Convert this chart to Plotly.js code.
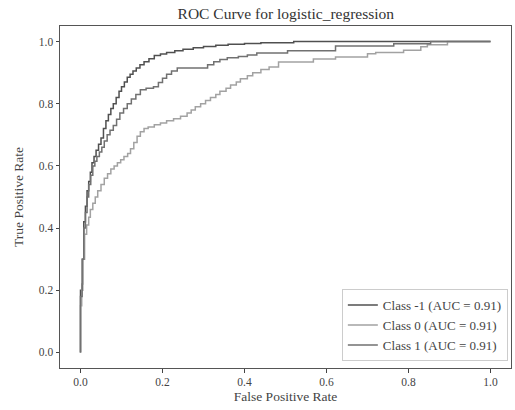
<!DOCTYPE html>
<html>
<head>
<meta charset="utf-8">
<script src="https://cdn.plot.ly/plotly-3.0.1.min.js"></script>
<style>html,body{margin:0;padding:0;background:#fff;}#chart{width:515px;height:410px;}</style>
</head>
<body>
<div id="chart"></div>
<script>
// Class -1 ROC (step corners)
const fprNeg1 = [0,0,0.005,0.008,0.012,0.016,0.02,0.024,0.028,0.033,0.038,0.044,0.05,0.056,0.062,0.068,0.074,0.08,0.087,0.094,0.1,0.107,0.114,0.121,0.128,0.136,0.145,0.155,0.167,0.18,0.195,0.21,0.23,0.25,0.275,0.3,0.33,0.36,0.4,0.44,0.52,1.0];
const tprNeg1 = [0,0.2,0.3,0.42,0.47,0.52,0.55,0.58,0.61,0.63,0.65,0.67,0.69,0.72,0.745,0.765,0.785,0.8,0.82,0.84,0.855,0.87,0.885,0.895,0.905,0.915,0.925,0.935,0.945,0.955,0.96,0.965,0.97,0.975,0.98,0.984,0.988,0.991,0.994,0.996,1.0,1.0];
// Class 0 ROC
const fpr0 = [0,0,0.003,0.006,0.01,0.015,0.02,0.024,0.03,0.036,0.042,0.05,0.058,0.066,0.074,0.082,0.09,0.098,0.106,0.115,0.122,0.13,0.138,0.146,0.155,0.165,0.18,0.195,0.21,0.227,0.244,0.26,0.27,0.28,0.293,0.305,0.317,0.33,0.34,0.355,0.366,0.38,0.39,0.407,0.42,0.44,0.46,0.483,0.568,0.622,0.70,0.72,0.788,0.83,0.846,0.895,1.0];
const tpr0 = [0,0.15,0.22,0.3,0.38,0.41,0.435,0.46,0.48,0.5,0.52,0.54,0.56,0.575,0.59,0.6,0.61,0.62,0.63,0.64,0.655,0.675,0.695,0.71,0.72,0.725,0.732,0.738,0.745,0.752,0.76,0.77,0.78,0.79,0.8,0.81,0.82,0.83,0.84,0.85,0.86,0.87,0.88,0.89,0.9,0.91,0.918,0.934,0.944,0.95,0.961,0.965,0.972,0.983,0.99,1.0,1.0];
// Class 1 ROC
const fpr1 = [0,0,0.004,0.008,0.012,0.016,0.02,0.025,0.03,0.035,0.04,0.046,0.052,0.058,0.065,0.072,0.08,0.088,0.096,0.105,0.114,0.124,0.135,0.146,0.16,0.178,0.19,0.2,0.21,0.222,0.236,0.31,0.325,0.34,0.358,0.385,0.407,0.43,0.505,0.622,0.764,0.854,1.0];
const tpr1 = [0,0.18,0.3,0.4,0.45,0.5,0.54,0.57,0.6,0.615,0.63,0.645,0.66,0.68,0.7,0.715,0.73,0.75,0.77,0.785,0.8,0.815,0.83,0.845,0.85,0.855,0.868,0.882,0.895,0.905,0.915,0.925,0.935,0.942,0.948,0.952,0.957,0.963,0.97,0.986,0.993,1.0,1.0];

const seriesNames = ["Class -1 (AUC = 0.91)", "Class 0 (AUC = 0.91)", "Class 1 (AUC = 0.91)"];
const tickVals = [0,0.2,0.4,0.6,0.8,1.0];
const tickText = ["0.0","0.2","0.4","0.6","0.8","1.0"];

const FONT = "Liberation Serif, Times New Roman, serif";
const colors = ["#505050", "#a2a2a2", "#717171"];
const xs = [fprNeg1, fpr0, fpr1];
const ys = [tprNeg1, tpr0, tpr1];

const traces = seriesNames.map((n, i) => ({
  x: xs[i], y: ys[i], name: n, type: "scatter", mode: "lines",
  line: {color: colors[i], width: 1.5, shape: "hv"}
}));

const axisCommon = {
  range: [-0.05, 1.05], tickvals: tickVals, ticktext: tickText,
  showgrid: false, zeroline: false, showline: true, mirror: true,
  linecolor: "#555", linewidth: 1, ticks: "outside", ticklen: 3.5,
  tickcolor: "#444", tickwidth: 1,
  tickfont: {family: FONT, size: 11.5, color: "#444"}, automargin: false
};

const layout = {
  width: 515, height: 410,
  margin: {l: 60, r: 4, t: 26, b: 42},
  paper_bgcolor: "#fff", plot_bgcolor: "#fff",
  title: {text: "ROC Curve for logistic_regression", font: {family: FONT, size: 15.5, color: "#333"},
          x: 0.555, xanchor: "center", y: 0.968, yanchor: "middle", yref: "container"},
  xaxis: Object.assign({}, axisCommon, {title: {text: "False Positive Rate", font: {family: FONT, size: 13.5, color: "#444"}, standoff: 4}}),
  yaxis: Object.assign({}, axisCommon, {title: {text: "True Positive Rate", font: {family: FONT, size: 13.5, color: "#444"}, standoff: 12}}),
  showlegend: true,
  legend: {x: 0.993, xanchor: "right", y: 0.02, yanchor: "bottom",
           bgcolor: "rgba(255,255,255,0.9)", bordercolor: "#ccc", borderwidth: 1,
           font: {family: FONT, size: 13, color: "#444"}, tracegroupgap: 0, itemwidth: 30}
};

Plotly.newPlot("chart", traces, layout, {displayModeBar: false, staticPlot: true});
</script>
</body>
</html>
